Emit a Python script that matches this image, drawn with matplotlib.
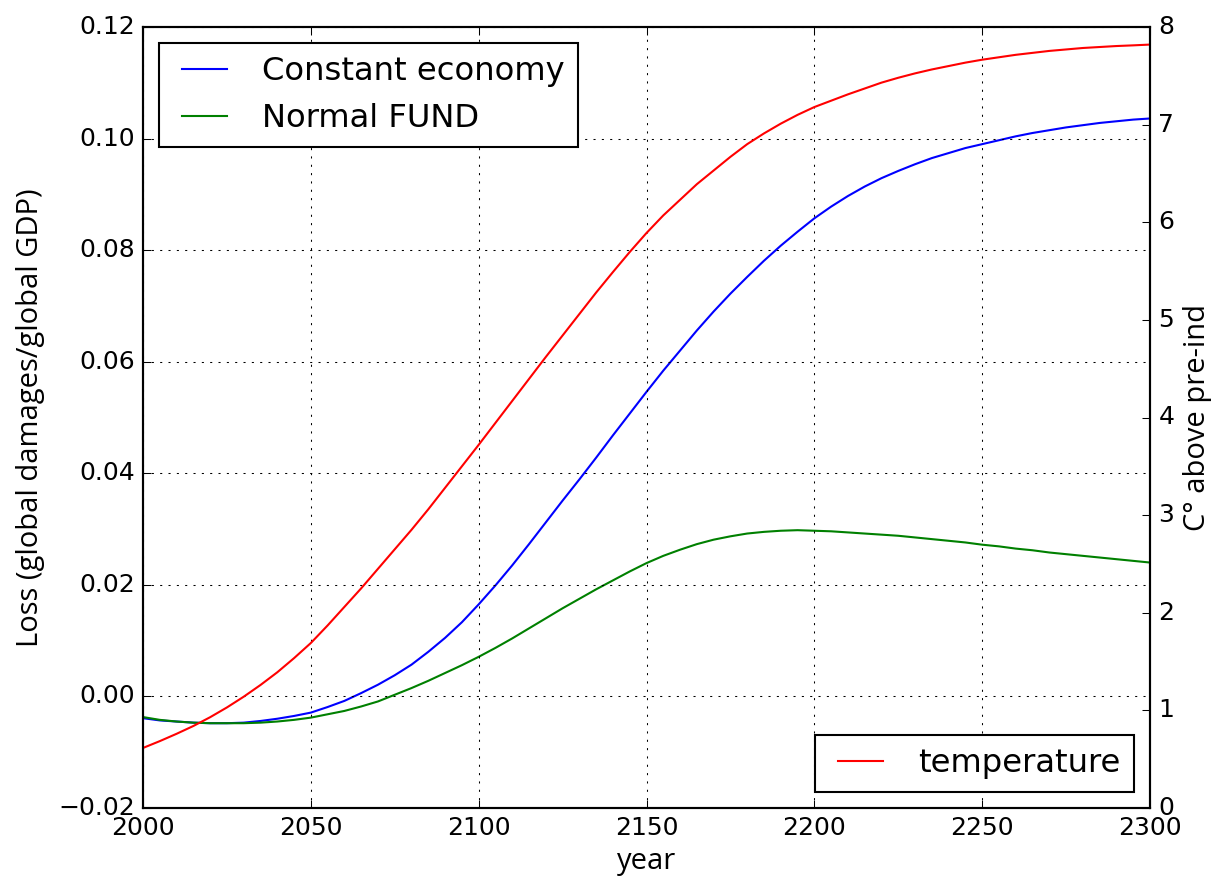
import matplotlib
matplotlib.use("Agg")
import matplotlib.pyplot as plt

plt.style.use("classic")

years = list(range(2000, 2301, 5))

constant_economy = [
    -0.0039, -0.0043, -0.0045, -0.0047, -0.0048, -0.0048, -0.0047, -0.0044, -0.0040, -0.0035,
    -0.0029, -0.0019, -0.0008, 0.0006, 0.0021, 0.0038, 0.0057, 0.0080, 0.0105, 0.0133,
    0.0165, 0.0199, 0.0235, 0.0273, 0.0312, 0.0351, 0.0389, 0.0428, 0.0468, 0.0507,
    0.0546, 0.0584, 0.0620, 0.0656, 0.0690, 0.0722, 0.0752, 0.0781, 0.0808, 0.0833,
    0.0857, 0.0878, 0.0897, 0.0914, 0.0929, 0.0942, 0.0954, 0.0965, 0.0974, 0.0983,
    0.0990, 0.0997, 0.1004, 0.1010, 0.1015, 0.1020, 0.1024, 0.1028, 0.1031, 0.1034,
    0.1036]

normal_fund = [
    -0.0037, -0.0042, -0.0045, -0.0047, -0.0048, -0.0048, -0.0048, -0.0047, -0.0045, -0.0042,
    -0.0038, -0.0032, -0.0026, -0.0018, -0.0009, 0.0003, 0.0015, 0.0028, 0.0042, 0.0056,
    0.0071, 0.0087, 0.0104, 0.0122, 0.0140, 0.0158, 0.0175, 0.0192, 0.0208, 0.0224,
    0.0239, 0.0252, 0.0263, 0.0273, 0.0281, 0.0287, 0.0292, 0.0295, 0.0297, 0.0298,
    0.0297, 0.0296, 0.0294, 0.0292, 0.0290, 0.0288, 0.0285, 0.0282, 0.0279, 0.0276,
    0.0272, 0.0269, 0.0265, 0.0262, 0.0258, 0.0255, 0.0252, 0.0249, 0.0246, 0.0243,
    0.0240]

temperature = [
    0.615, 0.685, 0.76, 0.84, 0.93, 1.03, 1.14, 1.26, 1.39, 1.535,
    1.69, 1.87, 2.06, 2.25, 2.45, 2.65, 2.85, 3.06, 3.28, 3.50,
    3.72, 3.945, 4.17, 4.395, 4.62, 4.84, 5.06, 5.28, 5.49, 5.695,
    5.89, 6.07, 6.23, 6.39, 6.53, 6.67, 6.80, 6.91, 7.01, 7.10,
    7.18, 7.245, 7.31, 7.37, 7.43, 7.48, 7.525, 7.565, 7.60, 7.635,
    7.665, 7.69, 7.715, 7.735, 7.755, 7.77, 7.785, 7.795, 7.805, 7.812,
    7.82]

fig = plt.figure(figsize=(1214 / 150, 890 / 150), dpi=150, facecolor="white")
ax = fig.add_axes([143 / 1214, 1 - 808 / 890, (1150 - 143) / 1214, (808 - 27) / 890])

ax.plot(years, constant_economy, color="b", label="Constant economy")
ax.plot(years, normal_fund, color="g", label="Normal FUND")
ax.set_xlim(2000, 2300)
ax.set_ylim(-0.02, 0.12)
ax.set_xticks([2000, 2050, 2100, 2150, 2200, 2250, 2300])
ax.grid(True)
ax.set_xlabel("year", fontname="Open Sans", fontsize=14, labelpad=3)
ax.set_ylabel("Loss (global damages/global GDP)", fontname="Open Sans", fontsize=14, labelpad=6)
ax.legend(loc=2, prop={"size": 15.5})

ax2 = ax.twinx()
ax2.plot(years, temperature, color="r", label="temperature")
ax2.set_ylim(0, 8)
ax2.set_xlim(2000, 2300)
ax2.set_ylabel("C° above pre-ind", fontname="Open Sans", fontsize=14, labelpad=4)
ax2.legend(loc=4, prop={"size": 15.5})

fig.savefig("out.png", dpi=150, facecolor="white")
